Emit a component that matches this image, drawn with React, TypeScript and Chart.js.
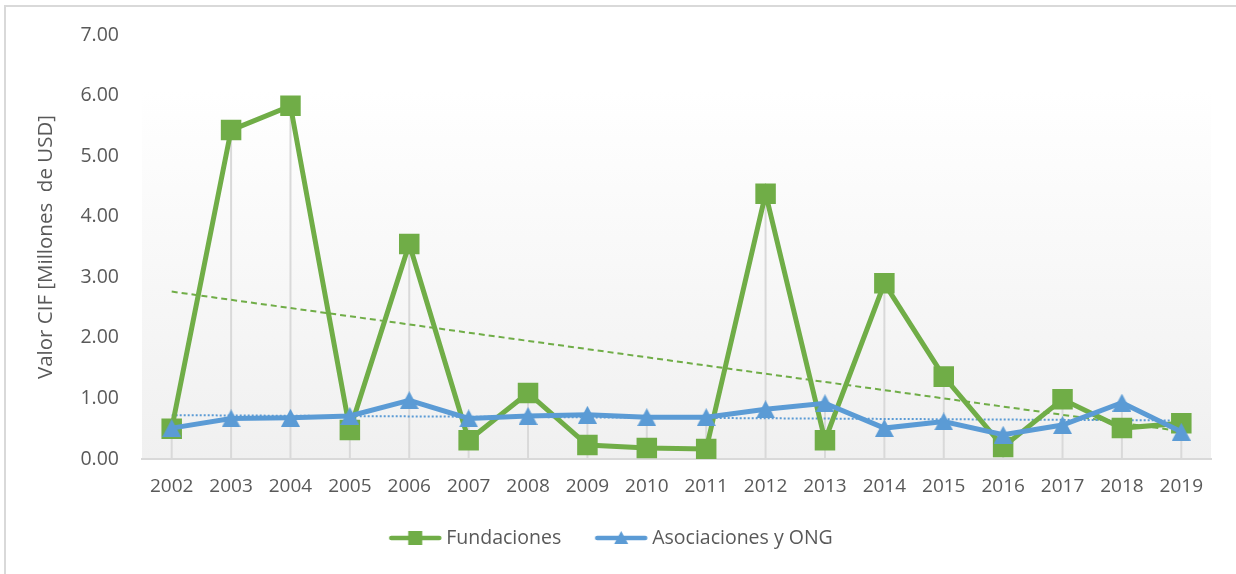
import React, { useEffect, useRef } from "react";
import { Chart, registerables } from "chart.js";

Chart.register(...registerables);

const years = ["2002", "2003", "2004", "2005", "2006", "2007", "2008", "2009", "2010", "2011", "2012", "2013", "2014", "2015", "2016", "2017", "2018", "2019"];
const fundaciones = [0.5, 5.43, 5.83, 0.48, 3.55, 0.31, 1.09, 0.23, 0.18, 0.165, 4.38, 0.31, 2.9, 1.36, 0.2, 0.985, 0.51, 0.59];
const asociaciones = [0.51, 0.67, 0.68, 0.71, 0.97, 0.67, 0.71, 0.73, 0.69, 0.69, 0.82, 0.92, 0.51, 0.62, 0.4, 0.56, 0.93, 0.45];
const seriesNames = ["Fundaciones", "Asociaciones y ONG"];
const yAxisTitle = "Valor CIF [Millones  de USD]";
const yMin = 0;
const yMax = 7;
const yStep = 1;

const GREEN = "#70AD47";
const BLUE = "#5B9BD5";
const TEXT = "#595959";
const GRID = "#d9d9d9";
const FONT = "'Open Sans'";

function linearTrend(values: number[]): number[] {
  const n = values.length;
  const xm = (n - 1) / 2;
  const ym = values.reduce((a, b) => a + b, 0) / n;
  let num = 0;
  let den = 0;
  values.forEach((v, i) => {
    num += (i - xm) * (v - ym);
    den += (i - xm) * (i - xm);
  });
  const slope = num / den;
  return values.map((_, i) => ym + slope * (i - xm));
}

function triangleImage(color: string, w: number, h: number) {
  const c = document.createElement("canvas");
  c.width = w;
  c.height = h;
  const ctx = c.getContext("2d")!;
  ctx.fillStyle = color;
  ctx.beginPath();
  ctx.moveTo(w / 2, 0);
  ctx.lineTo(w, h);
  ctx.lineTo(0, h);
  ctx.closePath();
  ctx.fill();
  return c;
}

function legendIcon(color: string, shape: "square" | "triangle") {
  const W = 72;
  const H = 20;
  const L = 14.375;
  const c = document.createElement("canvas");
  c.width = W;
  c.height = H;
  const ctx = c.getContext("2d")!;
  ctx.strokeStyle = color;
  ctx.lineWidth = 4.5;
  ctx.lineCap = "round";
  ctx.beginPath();
  ctx.moveTo(L + 2, H / 2);
  ctx.lineTo(L + 50, H / 2);
  ctx.stroke();
  ctx.fillStyle = color;
  const cx = L + 26;
  if (shape === "square") {
    ctx.fillRect(cx - 7, H / 2 - 7, 14, 14);
  } else {
    ctx.beginPath();
    ctx.moveTo(cx, H / 2 - 7);
    ctx.lineTo(cx + 7, H / 2 + 6);
    ctx.lineTo(cx - 7, H / 2 + 6);
    ctx.closePath();
    ctx.fill();
  }
  return c;
}

const backgroundPlugin = {
  id: "plotBackground",
  beforeDraw(chart: any) {
    const { ctx, chartArea, scales } = chart;
    const top = scales.y.getPixelForValue(6.08);
    const g = ctx.createLinearGradient(0, top, 0, chartArea.bottom);
    g.addColorStop(0, "#ffffff");
    g.addColorStop(1, "#f0f0f0");
    ctx.save();
    ctx.fillStyle = g;
    ctx.fillRect(chartArea.left, top, chartArea.right - chartArea.left, chartArea.bottom - top);
    ctx.restore();
  },
};

const dropLinesPlugin = {
  id: "dropLines",
  beforeDatasetsDraw(chart: any) {
    const { ctx, scales } = chart;
    ctx.save();
    ctx.strokeStyle = GRID;
    ctx.lineWidth = 2;
    years.forEach((_, i) => {
      const x = scales.x.getPixelForValue(i);
      const top = scales.y.getPixelForValue(Math.max(fundaciones[i], asociaciones[i]));
      const bottom = scales.y.getPixelForValue(0);
      ctx.beginPath();
      ctx.moveTo(x, top);
      ctx.lineTo(x, bottom);
      ctx.stroke();
    });
    ctx.restore();
  },
};

const legendShiftPlugin = {
  id: "legendShift",
  afterLayout(chart: any) {
    const lg = chart.legend;
    if (lg) {
      lg.left -= 12;
      lg.right -= 12;
    }
  },
};

export default function App() {
  const ref = useRef<HTMLCanvasElement>(null);

  useEffect(() => {
    document.body.style.margin = "0";
    const canvas = ref.current!;
    const tri = triangleImage(BLUE, 19, 18);
    const iconF = legendIcon(GREEN, "square");
    const iconA = legendIcon(BLUE, "triangle");

    const chart = new Chart(canvas, {
      type: "line",
      data: {
        labels: years,
        datasets: [
          {
            label: seriesNames[1],
            data: asociaciones,
            borderColor: BLUE,
            backgroundColor: BLUE,
            borderWidth: 5,
            pointStyle: tri as any,
            pointRadius: 10,
            pointHoverRadius: 10,
            tension: 0,
          },
          {
            label: seriesNames[0],
            data: fundaciones,
            borderColor: GREEN,
            backgroundColor: GREEN,
            borderWidth: 5,
            pointStyle: "rect",
            pointRadius: 14.5,
            pointHoverRadius: 14.5,
            pointBorderWidth: 0,
            tension: 0,
          },
          {
            label: "trendA",
            data: linearTrend(asociaciones),
            borderColor: BLUE,
            borderWidth: 2,
            borderDash: [2, 2],
            pointRadius: 0,
            fill: false,
          },
          {
            label: "trendF",
            data: linearTrend(fundaciones),
            borderColor: GREEN,
            borderWidth: 2,
            borderDash: [6, 4],
            pointRadius: 0,
            fill: false,
          },
        ],
      },
      options: {
        responsive: false,
        animation: false,
        layout: { padding: { left: 31, right: 25, top: 35, bottom: 16.25 } },
        font: { family: FONT, size: 19 } as any,
        plugins: {
          tooltip: { enabled: false },
          legend: {
            position: "bottom",
            labels: {
              usePointStyle: true,
              pointStyleWidth: 51.25,
              padding: 30,
              color: TEXT,
              font: { family: FONT, size: 19.5 },
              generateLabels: () => [
                { text: seriesNames[0], pointStyle: iconF as any, datasetIndex: 1, fillStyle: GREEN, strokeStyle: GREEN, lineWidth: 0, hidden: false, fontColor: TEXT },
                { text: seriesNames[1], pointStyle: iconA as any, datasetIndex: 0, fillStyle: BLUE, strokeStyle: BLUE, lineWidth: 0, hidden: false, fontColor: TEXT },
              ],
            },
          },
        },
        scales: {
          x: {
            offset: true,
            grid: { display: false, drawTicks: false },
            border: { display: true, color: GRID, width: 2 },
            ticks: { color: TEXT, font: { family: FONT, size: 19 }, padding: 16, maxRotation: 0, autoSkip: false },
            afterFit: (s: any) => {
              s.height = 39.25;
            },
          },
          y: {
            min: yMin,
            max: yMax,
            grid: { display: false, drawTicks: false },
            border: { display: false },
            ticks: {
              stepSize: yStep,
              color: TEXT,
              padding: 23,
              font: { family: FONT, size: 19.5 },
              callback: (v: any) => Number(v).toFixed(2),
            },
            title: {
              display: true,
              text: yAxisTitle,
              color: TEXT,
              font: { family: FONT, size: 20.5 },
              padding: { top: 3, bottom: 4 },
            },
            afterFit: (s: any) => {
              s.width = 111;
            },
          },
        },
      },
      plugins: [backgroundPlugin, dropLinesPlugin, legendShiftPlugin],
    });
    return () => chart.destroy();
  }, []);

  return (
    <div style={{ position: "relative", width: 1236, height: 574, background: "#ffffff" }}>
      <div
        style={{
          position: "absolute",
          left: 4,
          top: 5,
          right: 0,
          bottom: 0,
          borderLeft: `2px solid ${GRID}`,
          borderTop: `2px solid ${GRID}`,
        }}
      />
      <canvas ref={ref} width={1236} height={574} style={{ position: "absolute", left: 0, top: 0, display: "block" }} />
    </div>
  );
}
